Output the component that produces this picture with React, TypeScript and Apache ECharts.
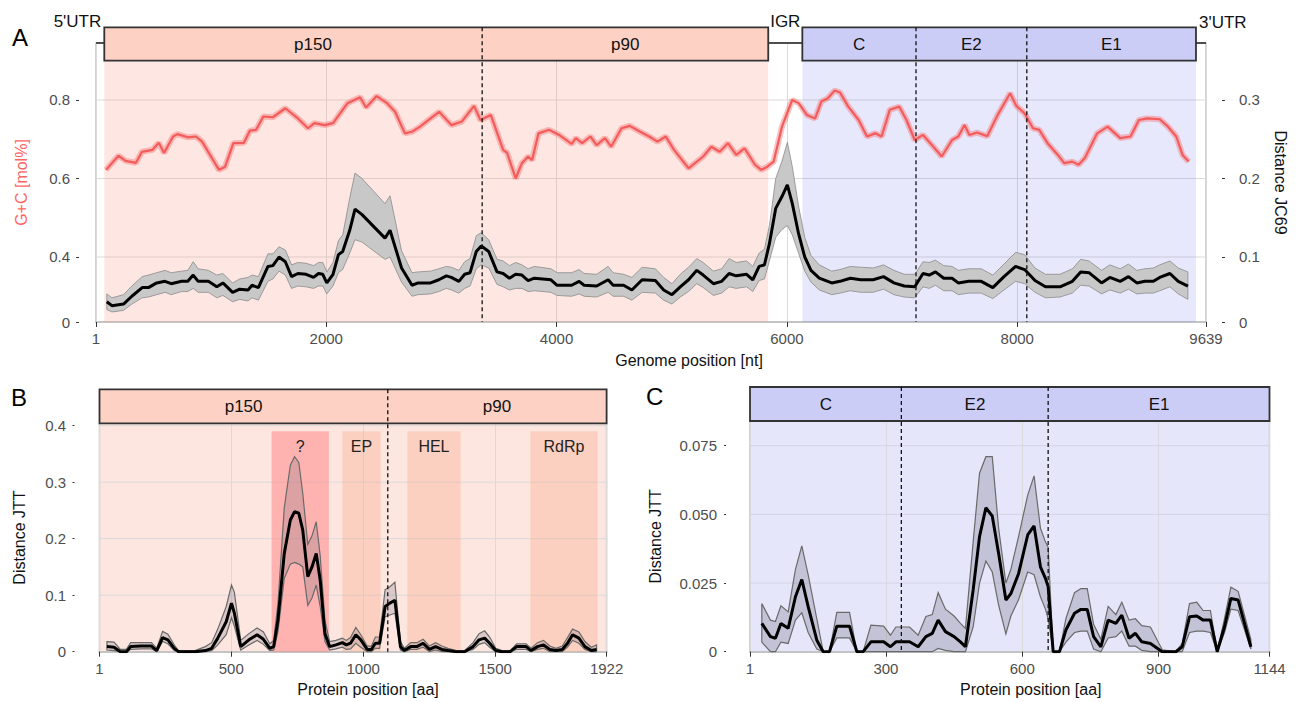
import React, { useEffect, useRef } from 'react';
import * as echarts from 'echarts';

const FONT = "'Liberation Sans', Arial, Helvetica, sans-serif";

// ---------------- Panel A : genome ----------------
const genomeLength = 9639;
const nsOrf = [73, 5838];          // p150 / p90 ORF
const nsDivider = 3354;
const sOrf = [6134, 9552];         // C / E2 / E1 ORF
const sDividers = [7121, 8083];
const aLabelText = ['p150', 'p90', 'C', 'E2', 'E1'];
const aLabelPos = [1885, 4596, 6627, 7602, 8817];

const gcPos = [88, 196, 258, 348, 400, 492, 546, 592, 670, 708,
  798, 869, 922, 1069, 1122, 1194, 1285, 1338, 1391, 1454,
  1537, 1645, 1754, 1842, 1898, 1987, 2059, 2185, 2294, 2346,
  2438, 2528, 2598, 2683, 2745, 2815, 2906, 2980, 3087, 3177,
  3284, 3339, 3429, 3536, 3571, 3645, 3699, 3753, 3788, 3843,
  3934, 4022, 4131, 4168, 4222, 4294, 4348, 4420, 4474, 4564,
  4636, 4726, 4804, 4876, 4948, 5020, 5146, 5273, 5344, 5416,
  5488, 5560, 5632, 5723, 5777, 5830, 5885, 5957, 6046, 6102,
  6173, 6245, 6299, 6353, 6415, 6461, 6533, 6623, 6695, 6767,
  6822, 6893, 6976, 7038, 7110, 7182, 7272, 7344, 7434, 7488,
  7542, 7585, 7650, 7740, 7830, 7938, 7992, 8064, 8137, 8191,
  8263, 8353, 8408, 8478, 8533, 8587, 8694, 8785, 8894, 8984,
  9056, 9129, 9237, 9309, 9381, 9435, 9489];
const gcValue = [0.622, 0.658, 0.645, 0.640, 0.668, 0.673, 0.691, 0.665, 0.707, 0.713,
  0.705, 0.707, 0.694, 0.622, 0.630, 0.690, 0.691, 0.722, 0.724, 0.758,
  0.756, 0.779, 0.753, 0.728, 0.741, 0.736, 0.741, 0.792, 0.807, 0.781,
  0.810, 0.792, 0.770, 0.715, 0.719, 0.732, 0.753, 0.770, 0.736, 0.745,
  0.785, 0.749, 0.762, 0.673, 0.665, 0.600, 0.639, 0.656, 0.647, 0.715,
  0.724, 0.711, 0.688, 0.703, 0.690, 0.707, 0.685, 0.703, 0.681, 0.728,
  0.734, 0.719, 0.707, 0.694, 0.707, 0.673, 0.626, 0.656, 0.681, 0.668,
  0.690, 0.660, 0.677, 0.635, 0.622, 0.630, 0.643, 0.732, 0.800, 0.792,
  0.762, 0.753, 0.796, 0.804, 0.824, 0.819, 0.783, 0.749, 0.707, 0.715,
  0.707, 0.775, 0.783, 0.749, 0.698, 0.711, 0.681, 0.656, 0.698, 0.707,
  0.736, 0.711, 0.717, 0.708, 0.762, 0.817, 0.785, 0.766, 0.728, 0.724,
  0.690, 0.660, 0.639, 0.643, 0.635, 0.652, 0.715, 0.732, 0.703, 0.707,
  0.749, 0.753, 0.751, 0.732, 0.707, 0.660, 0.643];

const distPos = [95, 139, 240, 312, 402, 456, 528, 600, 654, 744,
  798, 845, 888, 977, 1050, 1103, 1187, 1249, 1321, 1356,
  1411, 1494, 1537, 1590, 1645, 1699, 1754, 1825, 1890, 1933,
  1970, 2005, 2059, 2106, 2143, 2204, 2250, 2311, 2510, 2554,
  2654, 2745, 2798, 2906, 2978, 3043, 3086, 3152, 3202, 3249,
  3303, 3346, 3411, 3483, 3536, 3591, 3645, 3699, 3753, 3807,
  3951, 4005, 4131, 4196, 4239, 4348, 4448, 4491, 4582, 4654,
  4743, 4858, 4930, 5002, 5074, 5146, 5218, 5273, 5362, 5434,
  5498, 5560, 5650, 5704, 5759, 5805, 5848, 5903, 5957, 6004,
  6047, 6101, 6155, 6209, 6281, 6389, 6461, 6551, 6641, 6749,
  6839, 6929, 7019, 7110, 7182, 7236, 7290, 7362, 7434, 7488,
  7579, 7687, 7788, 7885, 7986, 8064, 8154, 8245, 8371, 8479,
  8551, 8623, 8732, 8804, 8894, 8966, 9038, 9110, 9182, 9237,
  9326, 9398, 9482];
const distMean = [0.043, 0.038, 0.040, 0.050, 0.061, 0.061, 0.067, 0.069, 0.066, 0.069,
  0.069, 0.077, 0.069, 0.069, 0.062, 0.067, 0.055, 0.059, 0.058, 0.064,
  0.061, 0.088, 0.089, 0.100, 0.094, 0.075, 0.079, 0.078, 0.074, 0.079,
  0.078, 0.067, 0.078, 0.103, 0.107, 0.134, 0.161, 0.154, 0.124, 0.134,
  0.086, 0.064, 0.067, 0.067, 0.071, 0.076, 0.074, 0.069, 0.078, 0.080,
  0.107, 0.114, 0.107, 0.081, 0.079, 0.073, 0.078, 0.077, 0.070, 0.073,
  0.071, 0.064, 0.064, 0.069, 0.064, 0.063, 0.071, 0.064, 0.064, 0.058,
  0.071, 0.070, 0.058, 0.052, 0.062, 0.071, 0.083, 0.077, 0.066, 0.069,
  0.079, 0.076, 0.078, 0.071, 0.088, 0.090, 0.117, 0.162, 0.177, 0.192,
  0.168, 0.130, 0.100, 0.083, 0.073, 0.067, 0.069, 0.073, 0.071, 0.071,
  0.075, 0.067, 0.063, 0.062, 0.079, 0.077, 0.081, 0.073, 0.073, 0.067,
  0.069, 0.069, 0.061, 0.075, 0.088, 0.084, 0.070, 0.062, 0.062, 0.069,
  0.081, 0.080, 0.067, 0.074, 0.069, 0.075, 0.067, 0.069, 0.069, 0.074,
  0.079, 0.069, 0.063];
const distLow = [0.033, 0.030, 0.032, 0.040, 0.048, 0.049, 0.052, 0.055, 0.052, 0.056,
  0.056, 0.060, 0.055, 0.055, 0.048, 0.051, 0.043, 0.046, 0.044, 0.048,
  0.045, 0.069, 0.072, 0.082, 0.077, 0.060, 0.063, 0.062, 0.060, 0.063,
  0.063, 0.053, 0.063, 0.080, 0.084, 0.105, 0.122, 0.119, 0.097, 0.100,
  0.068, 0.050, 0.052, 0.053, 0.056, 0.060, 0.058, 0.054, 0.060, 0.063,
  0.085, 0.090, 0.086, 0.065, 0.062, 0.058, 0.060, 0.060, 0.056, 0.057,
  0.055, 0.051, 0.050, 0.053, 0.050, 0.049, 0.055, 0.050, 0.050, 0.045,
  0.055, 0.054, 0.045, 0.040, 0.049, 0.056, 0.066, 0.061, 0.051, 0.054,
  0.062, 0.060, 0.062, 0.056, 0.070, 0.072, 0.095, 0.125, 0.135, 0.140,
  0.128, 0.105, 0.082, 0.068, 0.058, 0.052, 0.054, 0.057, 0.055, 0.055,
  0.059, 0.052, 0.049, 0.048, 0.062, 0.060, 0.064, 0.057, 0.057, 0.052,
  0.054, 0.054, 0.047, 0.058, 0.069, 0.066, 0.055, 0.048, 0.049, 0.054,
  0.064, 0.063, 0.053, 0.058, 0.054, 0.059, 0.053, 0.054, 0.054, 0.057,
  0.062, 0.053, 0.046];
const distHigh = [0.053, 0.048, 0.052, 0.063, 0.075, 0.077, 0.080, 0.083, 0.080, 0.082,
  0.083, 0.094, 0.085, 0.083, 0.077, 0.079, 0.067, 0.072, 0.074, 0.077,
  0.075, 0.104, 0.104, 0.113, 0.109, 0.090, 0.093, 0.092, 0.089, 0.093,
  0.093, 0.081, 0.093, 0.121, 0.128, 0.175, 0.207, 0.200, 0.168, 0.178,
  0.108, 0.080, 0.081, 0.082, 0.085, 0.088, 0.087, 0.083, 0.094, 0.098,
  0.127, 0.131, 0.122, 0.097, 0.095, 0.089, 0.093, 0.090, 0.085, 0.088,
  0.085, 0.080, 0.080, 0.084, 0.079, 0.078, 0.088, 0.080, 0.078, 0.074,
  0.087, 0.085, 0.074, 0.066, 0.078, 0.087, 0.098, 0.093, 0.082, 0.085,
  0.098, 0.093, 0.095, 0.088, 0.105, 0.110, 0.140, 0.200, 0.222, 0.246,
  0.215, 0.165, 0.125, 0.102, 0.090, 0.082, 0.084, 0.088, 0.087, 0.086,
  0.090, 0.083, 0.078, 0.078, 0.094, 0.093, 0.096, 0.089, 0.088, 0.083,
  0.085, 0.085, 0.077, 0.091, 0.106, 0.103, 0.086, 0.078, 0.078, 0.085,
  0.097, 0.095, 0.083, 0.090, 0.085, 0.091, 0.083, 0.085, 0.086, 0.090,
  0.095, 0.086, 0.081];

// ---------------- Panel B : non-structural protein ----------------
const nsLength = 1922;
const nsProteinDivider = 1093;
const bLabelText = ['p150', 'p90'];
const bLabelPos = [547, 1507];
const domainName = ['?', 'EP', 'HEL', 'RdRp'];
const domainStart = [653, 921, 1167, 1633];
const domainEnd = [870, 1066, 1369, 1888];
const domainTop = 0.39;

const bPos = [29, 56, 80, 103, 119, 158, 198, 218, 240, 260,
  284, 300, 363, 402, 426, 449, 481, 501, 512, 536,
  567, 598, 622, 646, 661, 677, 701, 724, 740, 756,
  771, 790, 806, 822, 837, 855, 873, 897, 921, 936,
  952, 972, 991, 1015, 1031, 1046, 1062, 1083, 1101, 1120,
  1141, 1156, 1180, 1203, 1227, 1251, 1274, 1298, 1321, 1353,
  1384, 1416, 1439, 1460, 1479, 1502, 1526, 1557, 1581, 1617,
  1636, 1660, 1683, 1707, 1730, 1754, 1774, 1793, 1817, 1840,
  1864, 1884];
const bMean = [0.009, 0.008, 0, 0, 0.009, 0.010, 0.010, 0.002, 0.025, 0.021,
  0.006, 0, 0, 0.002, 0.006, 0.024, 0.053, 0.086, 0.068, 0.009,
  0.021, 0.030, 0.022, 0.006, 0.009, 0.056, 0.174, 0.233, 0.248, 0.245,
  0.215, 0.133, 0.150, 0.174, 0.127, 0.032, 0.009, 0.012, 0.016, 0.012,
  0.015, 0.030, 0.021, 0.004, 0.004, 0.015, 0.015, 0.080, 0.086, 0.091,
  0.009, 0.002, 0.009, 0.009, 0.015, 0.004, 0.009, 0.004, 0.002, 0,
  0, 0.009, 0.021, 0.024, 0.015, 0.002, 0, 0, 0.009, 0.009,
  0.002, 0.009, 0.012, 0.004, 0.002, 0.004, 0.015, 0.030, 0.024, 0.009,
  0.002, 0.004];
const bLow = [0.003, 0.002, 0, 0, 0.004, 0.005, 0.005, 0, 0.018, 0.014,
  0.002, 0, 0, 0, 0.002, 0.012, 0.030, 0.060, 0.045, 0.003,
  0.012, 0.020, 0.013, 0.002, 0.003, 0.035, 0.130, 0.155, 0.158, 0.155,
  0.150, 0.082, 0.095, 0.118, 0.080, 0.018, 0.003, 0.005, 0.008, 0.004,
  0.005, 0.015, 0.008, 0, 0, 0.006, 0.006, 0.062, 0.065, 0.068,
  0.003, 0, 0.004, 0.004, 0.008, 0, 0.003, 0, 0, 0,
  0, 0.004, 0.013, 0.016, 0.008, 0, 0, 0, 0.004, 0.004,
  0, 0.004, 0.006, 0, 0, 0, 0.008, 0.020, 0.015, 0.004,
  0, 0];
const bHigh = [0.018, 0.017, 0.004, 0.004, 0.016, 0.016, 0.016, 0.006, 0.036, 0.031,
  0.012, 0.002, 0.002, 0.009, 0.016, 0.040, 0.080, 0.118, 0.105, 0.020,
  0.032, 0.042, 0.035, 0.014, 0.020, 0.085, 0.255, 0.330, 0.345, 0.335,
  0.280, 0.190, 0.205, 0.230, 0.170, 0.055, 0.018, 0.020, 0.024, 0.020,
  0.025, 0.043, 0.030, 0.010, 0.010, 0.026, 0.026, 0.110, 0.115, 0.123,
  0.018, 0.006, 0.016, 0.016, 0.022, 0.010, 0.016, 0.010, 0.006, 0.002,
  0.002, 0.016, 0.032, 0.037, 0.026, 0.006, 0.002, 0.002, 0.014, 0.014,
  0.006, 0.016, 0.020, 0.010, 0.006, 0.010, 0.025, 0.040, 0.035, 0.018,
  0.008, 0.012];

// ---------------- Panel C : structural protein ----------------
const sLength = 1144;
const sProteinDividers = [334, 657];
const cLabelText = ['C', 'E2', 'E1'];
const cLabelPos = [168, 496, 901];

const cPos = [27, 46, 57, 69, 85, 101, 115, 129, 148, 162,
  176, 192, 220, 236, 250, 267, 295, 310, 322, 352,
  371, 388, 402, 415, 431, 450, 464, 475, 492, 506,
  520, 534, 548, 564, 575, 592, 612, 626, 640, 651,
  657, 668, 682, 696, 715, 729, 743, 757, 773, 789,
  806, 819, 835, 849, 863, 882, 908, 938, 952, 968,
  984, 998, 1014, 1029, 1045, 1059, 1075, 1103];
const cMean = [0.0103, 0.0055, 0.0049, 0.0103, 0.0085, 0.0200, 0.0263, 0.0164, 0.0042, 0,
  0, 0.0093, 0.0093, 0, 0, 0.0036, 0.0036, 0.0018, 0.0036, 0.0036,
  0.0018, 0.0055, 0.0067, 0.0115, 0.0073, 0.0055, 0.0036, 0.0018, 0.0225, 0.0419,
  0.0524, 0.0494, 0.0358, 0.0188, 0.0212, 0.0285, 0.0425, 0.0458, 0.0309, 0.0267,
  0.0237, 0, 0, 0.0079, 0.0140, 0.0154, 0.0154, 0.0055, 0.0018, 0.0115,
  0.0103, 0.0133, 0.0049, 0.0067, 0.0036, 0.0030, 0, 0, 0.0018, 0.0127,
  0.0130, 0.0115, 0.0115, 0, 0.0091, 0.0194, 0.0188, 0.0018];
const cLow = [0.0035, 0, 0, 0.0035, 0.0030, 0.0115, 0.0142, 0.0070, 0.0010, 0,
  0, 0.0050, 0.0050, 0, 0, 0, 0, 0, 0, 0,
  0, 0, 0, 0.0012, 0.0005, 0, 0, 0, 0.0090, 0.0250,
  0.0330, 0.0290, 0.0170, 0.0065, 0.0130, 0.0190, 0.0290, 0.0280, 0.0200, 0.0155,
  0.0120, 0, 0, 0.0035, 0.0070, 0.0075, 0.0075, 0.0010, 0, 0.0050,
  0.0055, 0.0075, 0.0020, 0.0020, 0.0005, 0, 0, 0, 0, 0.0070,
  0.0075, 0.0075, 0.0070, 0, 0.0070, 0.0155, 0.0150, 0.0010];
const cHigh = [0.0175, 0.0115, 0.0110, 0.0167, 0.0145, 0.0300, 0.0385, 0.0280, 0.0120, 0,
  0, 0.0143, 0.0143, 0, 0, 0.0097, 0.0093, 0.0060, 0.0090, 0.0090,
  0.0060, 0.0128, 0.0135, 0.0215, 0.0155, 0.0130, 0.0103, 0.0085, 0.0400, 0.0650,
  0.0710, 0.0710, 0.0450, 0.0250, 0.0300, 0.0420, 0.0570, 0.0640, 0.0450, 0.0400,
  0.0380, 0, 0, 0.0120, 0.0215, 0.0230, 0.0230, 0.0100, 0.0045, 0.0165,
  0.0135, 0.0180, 0.0115, 0.0120, 0.0095, 0.0090, 0.0007, 0, 0.0030, 0.0175,
  0.0180, 0.0150, 0.0150, 0, 0.0120, 0.0235, 0.0220, 0.0045];

// ---------------- axis ranges and ticks (from the reference axes) ----------------
const gcMin = 0.2344, gcMax = 0.9452;
const jcMin = 0.0172, jcMax = 0.3726;
const bMax = 0.4042;
const cMax = 0.084;
const gcTicks = [gcMin, 0.4, 0.6, 0.8];
const jcTicks = [jcMin, 0.1, 0.2, 0.3];
const bTicks = [0, 0.1, 0.2, 0.3, 0.4];
const cTicks = [0, 0.025, 0.05, 0.075];

const pairs = (xs: number[], ys: number[]) => xs.map((x, i) => [x, ys[i]]);

function bandRender(xs: number[], lo: number[], hi: number[], fill: string, stroke: string, lw: number) {
  return (params: any, api: any) => {
    const pts: number[][] = [];
    for (let i = 0; i < xs.length; i++) pts.push(api.coord([xs[i], hi[i]]));
    for (let i = xs.length - 1; i >= 0; i--) pts.push(api.coord([xs[i], lo[i]]));
    return { type: 'polygon', shape: { points: pts }, style: { fill, stroke, lineWidth: lw } };
  };
}

// horizontal grid lines drawn through the axis scale
function hLinesRender(values: number[], color: string) {
  return (params: any, api: any) => {
    const cs = params.coordSys;
    return {
      type: 'group',
      children: values.map((v) => {
        const y = api.coord([1, v])[1];
        return { type: 'line', shape: { x1: cs.x, y1: y, x2: cs.x + cs.width, y2: y },
          style: { stroke: color, lineWidth: 1 } };
      }),
    };
  };
}

type BoxSpec = { start: number; end: number; fill: string };
function annotRender(o: {
  yRef: number; boxTop: number; boxBottom: number; boxes: BoxSpec[]; dividers: number[];
  labels: string[]; labelPos: number[]; genomeLine?: number[]; utr?: boolean;
}) {
  return (params: any, api: any) => {
    const cs = params.coordSys;
    const X = (v: number) => api.coord([v, o.yRef])[0];
    const top = cs.y + o.boxTop;
    const bot = cs.y + o.boxBottom;
    const ch: any[] = [];
    if (o.genomeLine) {
      ch.push({ type: 'line', shape: { x1: X(o.genomeLine[0]), y1: cs.y, x2: X(o.genomeLine[1]), y2: cs.y },
        style: { stroke: '#222', lineWidth: 1.6 } });
    }
    for (const b of o.boxes) {
      ch.push({ type: 'rect', shape: { x: X(b.start), y: top, width: X(b.end) - X(b.start), height: bot - top },
        style: { fill: b.fill, stroke: '#333', lineWidth: 1.8 } });
    }
    for (const d of o.dividers) {
      ch.push({ type: 'line', shape: { x1: X(d), y1: top, x2: X(d), y2: cs.y + cs.height },
        style: { stroke: '#111', lineWidth: 1.3, lineDash: [4, 3] } });
    }
    const txt = (text: string, x: number, y: number, align: string, size: number) => ({
      type: 'text',
      style: { text, x, y, align, textAlign: align, verticalAlign: 'middle', textVerticalAlign: 'middle',
        fontSize: size, fontFamily: FONT, fill: '#111' },
    });
    o.labels.forEach((t, i) => ch.push(txt(t, X(o.labelPos[i]), (top + bot) / 2, 'center', 17)));
    if (o.utr) {
      const uy = cs.y - 22;
      ch.push(txt("5'UTR", X(nsOrf[0]) - 3, uy, 'right', 17));
      ch.push(txt('IGR', (X(nsOrf[1]) + X(sOrf[0])) / 2, uy, 'center', 17));
      ch.push(txt("3'UTR", X(sOrf[1]) + 3, uy + 1, 'left', 17));
    }
    return { type: 'group', children: ch };
  };
}

const tickLabel = { fontSize: 15, color: '#4d4d4d', fontFamily: FONT };
const nameStyle = { fontSize: 16, color: '#111', fontFamily: FONT };
const splitStyle = { show: true, lineStyle: { color: '#dadada', width: 1 } };

function xAxisCfg(gridIndex: number, max: number, step: number, name: string, shift: number) {
  return {
    gridIndex, type: 'value', min: 1, max, minInterval: step, maxInterval: step,
    name, nameLocation: 'middle', nameGap: 30,
    nameTextStyle: { ...nameStyle, padding: [0, 0, 0, shift] },
    axisLine: { show: true, lineStyle: { color: '#c4c4c4', width: 2 } },
    axisTick: { show: true, length: 5, lineStyle: { color: '#333', width: 1 } },
    axisLabel: { ...tickLabel, margin: 9, showMinLabel: true, showMaxLabel: true,
      formatter: (v: number) => String(Math.round(v)) },
    splitLine: splitStyle,
  };
}

function yAxisCfg(gridIndex: number, position: string, offset: number, min: number, max: number,
  ticks: number[], name: string, nameGap: number, margin: number, tickLen: number,
  fmt: (v: number) => string, extra: any = {}) {
  return {
    gridIndex, type: 'value', position, offset, min, max,
    name, nameLocation: 'middle', nameGap, nameTextStyle: { ...nameStyle, ...(extra.nameColor ? { color: extra.nameColor } : {}) },
    ...(extra.nameRotate != null ? { nameRotate: extra.nameRotate } : {}),
    axisLine: { show: false },
    axisTick: { show: true, length: tickLen, lineStyle: { color: '#333' }, customValues: ticks },
    axisLabel: { ...tickLabel, margin, showMinLabel: true, showMaxLabel: true, customValues: ticks, formatter: fmt },
    splitLine: { show: false },
  };
}

export default function App() {
  const ref = useRef<HTMLDivElement>(null);
  useEffect(() => {
    if (!ref.current) return;
    const chart = echarts.init(ref.current, undefined, { renderer: 'svg' });
    const gridBase = { show: true, borderColor: '#c4c4c4', borderWidth: 1.5 };
    const option: any = {
      animation: false,
      textStyle: { fontFamily: FONT },
      grid: [
        { ...gridBase, left: 96, top: 43, width: 1110, height: 279, backgroundColor: 'transparent' },
        { ...gridBase, left: 99.5, top: 423.3, width: 507.1, height: 228.4, backgroundColor: '#fde6e0' },
        { ...gridBase, left: 750, top: 421, width: 519.5, height: 230.7, backgroundColor: '#e6e6fb' },
      ],
      xAxis: [
        xAxisCfg(0, genomeLength, 2000, 'Genome position [nt]', 76),
        xAxisCfg(1, nsLength, 500, 'Protein position [aa]', 30),
        xAxisCfg(2, sLength, 300, 'Protein position [aa]', 42),
      ],
      yAxis: [
        yAxisCfg(0, 'left', 17, gcMin, gcMax, gcTicks, 'G+C [mol%]', 50, 9, 3,
          (v: number) => (v < 0.3 ? '0' : v.toFixed(1)), { nameColor: '#ff6464' }),
        yAxisCfg(0, 'right', 16, jcMin, jcMax, jcTicks, 'Distance JC69', 50, 17, 3,
          (v: number) => (v < 0.05 ? '0' : v.toFixed(1)), { nameRotate: -90 }),
        yAxisCfg(1, 'left', 25, 0, bMax, bTicks, 'Distance JTT', 47, 8.5, 2,
          (v: number) => (v === 0 ? '0' : String(+v.toFixed(1)))),
        yAxisCfg(2, 'left', 24, 0, cMax, cTicks, 'Distance JTT', 63, 9, 2,
          (v: number) => (v === 0 ? '0' : v.toFixed(3))),
      ],
      graphic: [
        { type: 'text', left: 12, top: 25, style: { text: 'A', fontSize: 24, fontFamily: FONT, fill: '#000' } },
        { type: 'text', left: 11, top: 385, style: { text: 'B', fontSize: 24, fontFamily: FONT, fill: '#000' } },
        { type: 'text', left: 646, top: 384, style: { text: 'C', fontSize: 24, fontFamily: FONT, fill: '#000' } },
      ],
      series: [
        // ---- Panel A ----
        {
          type: 'custom', xAxisIndex: 0, yAxisIndex: 1, silent: true, z: 0,
          renderItem: hLinesRender(jcTicks.slice(1), '#dadada'), data: [[1, 0.1]],
        },
        {
          type: 'line', xAxisIndex: 0, yAxisIndex: 1, data: [[1, jcMin]], symbol: 'none',
          lineStyle: { opacity: 0 }, silent: true, z: 1,
          markArea: {
            silent: true,
            data: [
              [{ xAxis: nsOrf[0], itemStyle: { color: 'rgba(250,160,140,0.25)' } }, { xAxis: nsOrf[1] }],
              [{ xAxis: sOrf[0], itemStyle: { color: 'rgba(110,110,240,0.16)' } }, { xAxis: sOrf[1] }],
            ],
          },
        },
        {
          type: 'custom', xAxisIndex: 0, yAxisIndex: 1, silent: true, z: 2,
          renderItem: bandRender(distPos, distLow, distHigh, '#c8c8c8', '#8a8a8a', 0.8),
          data: [[distPos[0], distMean[0]]],
        },
        {
          type: 'line', xAxisIndex: 0, yAxisIndex: 1, data: pairs(distPos, distMean), symbol: 'none',
          lineStyle: { color: '#000', width: 3 }, z: 3, silent: true,
        },
        {
          type: 'line', xAxisIndex: 0, yAxisIndex: 0, data: pairs(gcPos, gcValue), symbol: 'none',
          lineStyle: { color: 'rgba(244,120,120,0.45)', width: 6 }, z: 3, silent: true,
        },
        {
          type: 'line', xAxisIndex: 0, yAxisIndex: 0, data: pairs(gcPos, gcValue), symbol: 'none',
          lineStyle: { color: '#f45b5b', width: 2.2 }, z: 4, silent: true,
        },
        {
          type: 'custom', xAxisIndex: 0, yAxisIndex: 1, silent: true, z: 5, clip: false,
          renderItem: annotRender({
            yRef: 0.1, boxTop: -15.7, boxBottom: 17.7,
            boxes: [{ start: nsOrf[0], end: nsOrf[1], fill: '#fdd2c4' }, { start: sOrf[0], end: sOrf[1], fill: '#cccdf7' }],
            dividers: [nsDivider, ...sDividers], labels: aLabelText, labelPos: aLabelPos,
            genomeLine: [1, genomeLength], utr: true,
          }),
          data: [[1, 0.1]],
        },
        // ---- Panel B ----
        {
          type: 'custom', xAxisIndex: 1, yAxisIndex: 2, silent: true, z: 0,
          renderItem: hLinesRender(bTicks.slice(1), '#dadada'), data: [[1, 0.1]],
        },
        {
          type: 'line', xAxisIndex: 1, yAxisIndex: 2, data: [[1, 0]], symbol: 'none',
          lineStyle: { opacity: 0 }, silent: true, z: 1,
          markArea: {
            silent: true,
            label: { show: true, position: 'insideTop', distance: 7, color: '#222', fontSize: 16, fontFamily: FONT },
            data: domainName.map((n, i) => [
              { name: n, xAxis: domainStart[i], yAxis: 0,
                itemStyle: { color: n === '?' ? 'rgba(255,110,110,0.42)' : 'rgba(248,160,120,0.3)' } },
              { xAxis: domainEnd[i], yAxis: domainTop },
            ]),
          },
        },
        {
          type: 'custom', xAxisIndex: 1, yAxisIndex: 2, silent: true, z: 2,
          renderItem: bandRender(bPos, bLow, bHigh, 'rgba(100,100,120,0.22)', '#6a6a6a', 1.2),
          data: [[bPos[0], bMean[0]]],
        },
        {
          type: 'line', xAxisIndex: 1, yAxisIndex: 2, data: pairs(bPos, bMean), symbol: 'none',
          lineStyle: { color: '#000', width: 3 }, z: 3, silent: true,
        },
        {
          type: 'custom', xAxisIndex: 1, yAxisIndex: 2, silent: true, z: 5, clip: false,
          renderItem: annotRender({
            yRef: 0.1, boxTop: -34, boxBottom: 0,
            boxes: [{ start: 1, end: nsLength, fill: '#fdd2c4' }],
            dividers: [nsProteinDivider], labels: bLabelText, labelPos: bLabelPos,
          }),
          data: [[1, 0.1]],
        },
        // ---- Panel C ----
        {
          type: 'custom', xAxisIndex: 2, yAxisIndex: 3, silent: true, z: 0,
          renderItem: hLinesRender(cTicks.slice(1), '#d4d4e4'), data: [[1, 0.01]],
        },
        {
          type: 'custom', xAxisIndex: 2, yAxisIndex: 3, silent: true, z: 2,
          renderItem: bandRender(cPos, cLow, cHigh, 'rgba(90,90,110,0.25)', '#6a6a6a', 1.2),
          data: [[cPos[0], cMean[0]]],
        },
        {
          type: 'line', xAxisIndex: 2, yAxisIndex: 3, data: pairs(cPos, cMean), symbol: 'none',
          lineStyle: { color: '#000', width: 3 }, z: 3, silent: true,
        },
        {
          type: 'custom', xAxisIndex: 2, yAxisIndex: 3, silent: true, z: 5, clip: false,
          renderItem: annotRender({
            yRef: 0.01, boxTop: -34, boxBottom: 0,
            boxes: [{ start: 1, end: sLength, fill: '#cccdf7' }],
            dividers: sProteinDividers, labels: cLabelText, labelPos: cLabelPos,
          }),
          data: [[1, 0.01]],
        },
      ],
    };
    chart.setOption(option);
    return () => chart.dispose();
  }, []);
  return (
    <div
      ref={ref}
      style={{ position: 'fixed', left: 0, top: 0, width: 1302, height: 702, background: '#fff' }}
    />
  );
}
